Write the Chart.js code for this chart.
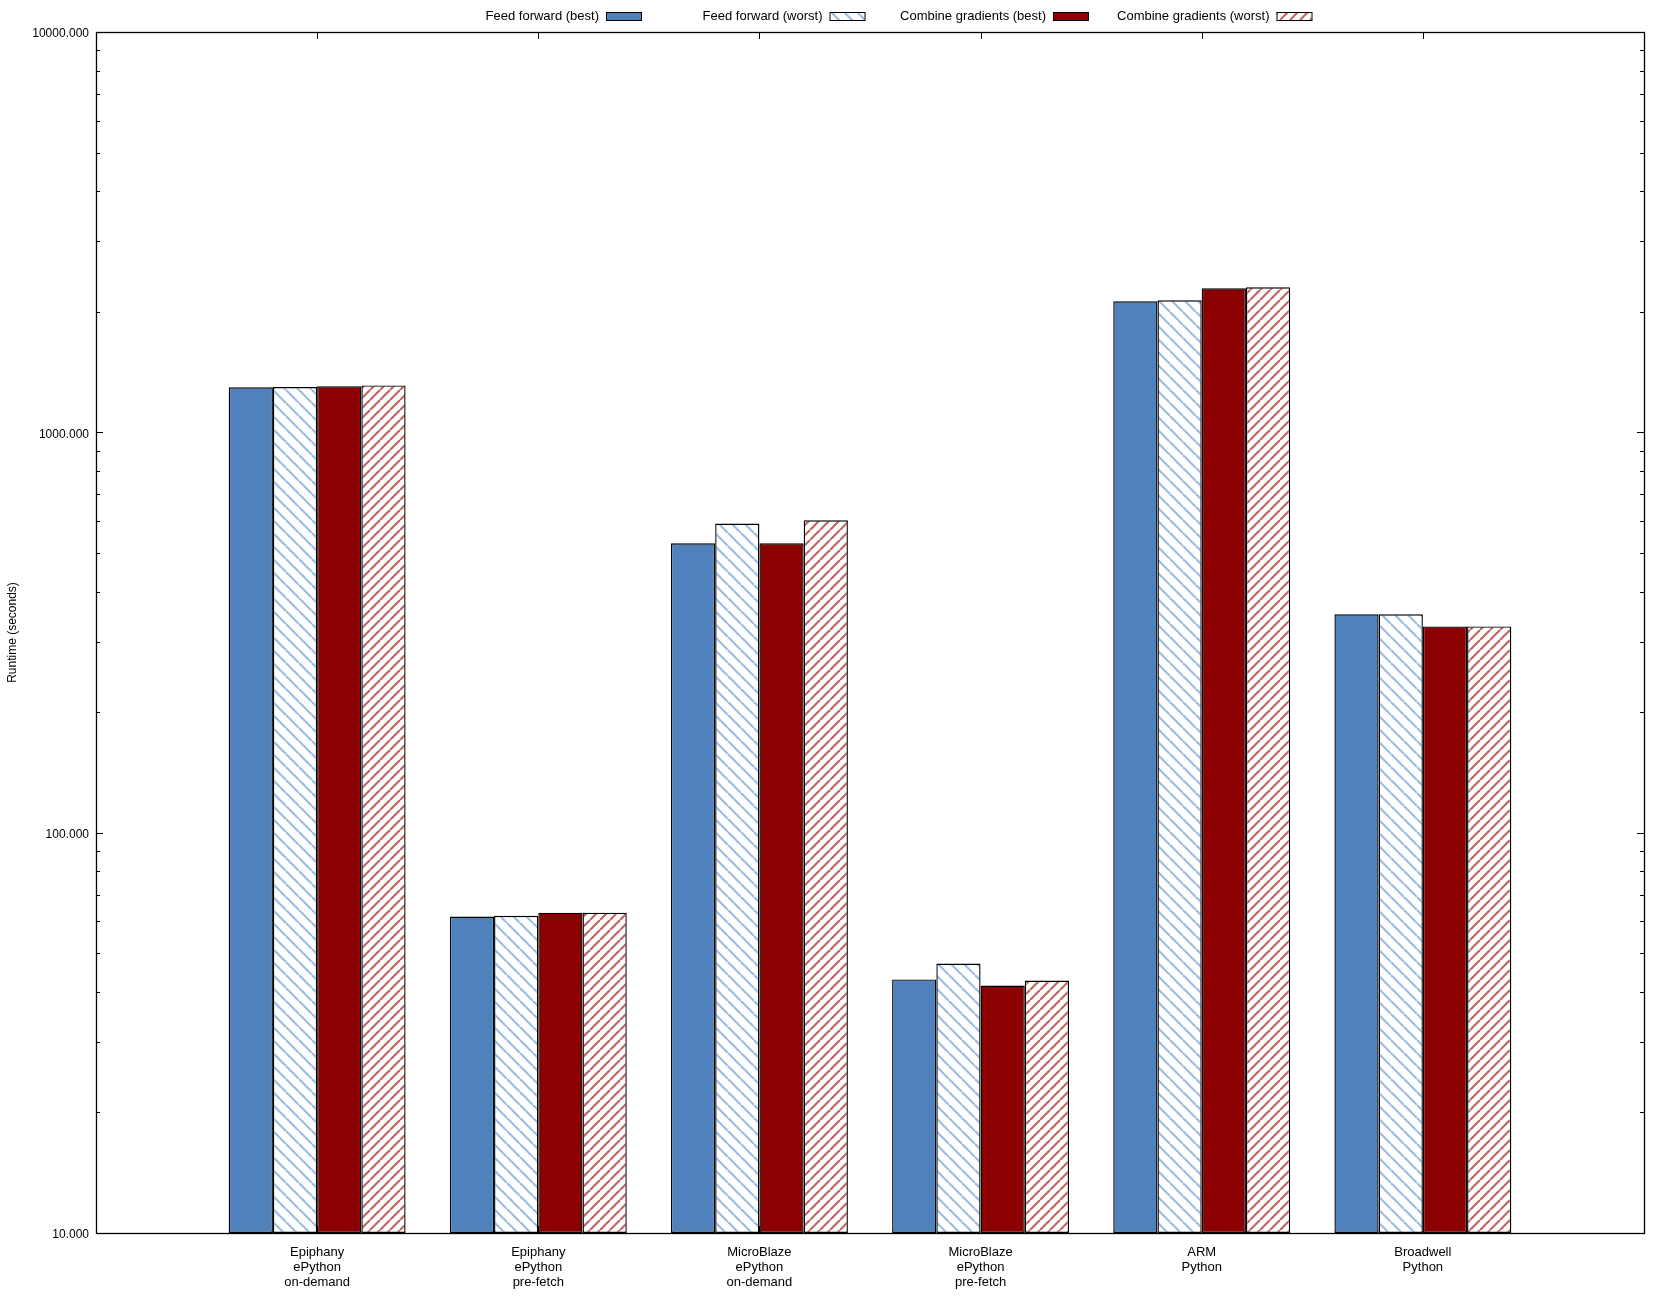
<!DOCTYPE html>
<html>
<head>
<meta charset="utf-8">
<script src="https://cdn.jsdelivr.net/npm/chart.js@4.4.1/dist/chart.umd.min.js"></script>
<style>
    body { margin: 0; background: #fff; }
    #wrap { width: 1665px; height: 1300px; }
</style>
</head>
<body>
<div id="wrap"><canvas id="runtimeChart"></canvas></div>
<script>
// Data
const categories = [
    ['Epiphany', 'ePython', 'on-demand'],
    ['Epiphany', 'ePython', 'pre-fetch'],
    ['MicroBlaze', 'ePython', 'on-demand'],
    ['MicroBlaze', 'ePython', 'pre-fetch'],
    ['ARM', 'Python'],
    ['Broadwell', 'Python']
];
const feedForwardBest = [1296, 61.7, 528, 43.0, 2125, 351];
const feedForwardWorst = [1297, 62.0, 592, 47.1, 2137, 351];
const combineBest = [1303, 63.1, 528, 41.5, 2289, 327.5];
const combineWorst = [1310, 63.1, 603, 42.7, 2302, 327.5];
const yTicks = [10, 100, 1000, 10000];
const seriesNames = ['Feed forward (best)', 'Feed forward (worst)', 'Combine gradients (best)', 'Combine gradients (worst)'];

// empty slot either side, like the gnuplot x range
const labels = [''].concat(categories, ['']);
const pad = arr => [null].concat(arr, [null]);

function makeHatch(color, size, dir) {
    const c = document.createElement('canvas');
    c.width = size;
    c.height = size;
    const g = c.getContext('2d');
    g.fillStyle = '#fff';
    g.fillRect(0, 0, size, size);
    g.strokeStyle = color;
    g.lineWidth = 2.2;
    for (let k = -size; k <= size; k += size) {
        g.beginPath();
        if (dir === 'back') {
            g.moveTo(k, 0);
            g.lineTo(k + size, size);
        } else {
            g.moveTo(k, size);
            g.lineTo(k + size, 0);
        }
        g.stroke();
    }
    return g.createPattern(c, 'repeat');
}

const blueHatch = makeHatch('#9dbde1', 13, 'back');
const redHatch = makeHatch('#c46663', 10, 'fwd');

// frame, inward ticks, legend and y title in gnuplot style
const gnuplotDecor = {
    id: 'gnuplotDecor',
    afterDatasetsDraw(chart) {
        const ctx = chart.ctx;
        const a = chart.chartArea;
        const x = chart.scales.x;
        const y = chart.scales.y;
        ctx.save();
        ctx.strokeStyle = '#000';
        ctx.lineWidth = 1;
        ctx.beginPath();
        // y ticks, major and minor, both sides
        for (let dec = 10; dec < 10000; dec *= 10) {
            for (let m = 1; m <= 10; m++) {
                const py = Math.round(y.getPixelForValue(dec * m)) + 0.5;
                const len = (m === 1 || m === 10) ? 7 : 4;
                ctx.moveTo(a.left, py); ctx.lineTo(a.left + len, py);
                ctx.moveTo(a.right, py); ctx.lineTo(a.right - len, py);
            }
        }
        // x ticks at group centres
        for (let i = 1; i <= categories.length; i++) {
            const px = Math.round(x.getPixelForValue(i)) + 0.5;
            ctx.moveTo(px, a.top); ctx.lineTo(px, a.top + 7);
            ctx.moveTo(px, a.bottom); ctx.lineTo(px, a.bottom - 7);
        }
        ctx.stroke();
        ctx.lineWidth = 1.3;
        ctx.strokeRect(Math.round(a.left) + 0.5, Math.round(a.top) + 0.5,
            Math.round(a.right - a.left), Math.round(a.bottom - a.top));

        // legend: text then swatch
        ctx.font = '13px "Liberation Sans"';
        ctx.textAlign = 'right';
        ctx.textBaseline = 'middle';
        chart.data.datasets.forEach((ds, i) => {
            const sx = 606 + i * 223.5;
            ctx.fillStyle = '#000';
            ctx.fillText(ds.label, sx - 7, 16);
            ctx.fillStyle = ds.backgroundColor;
            ctx.fillRect(sx, 12, 35, 8);
            ctx.lineWidth = 1;
            ctx.strokeRect(sx + 0.5, 12.5, 35, 8);
        });

        // y axis title
        ctx.translate(13, (a.top + a.bottom) / 2);
        ctx.rotate(-Math.PI / 2);
        ctx.textAlign = 'center';
        ctx.fillStyle = '#000';
        ctx.font = '12px "Liberation Sans"';
        ctx.fillText('Runtime (seconds)', 0, 0);
        ctx.restore();
    }
};

Chart.defaults.font.family = '"Liberation Sans", sans-serif';
Chart.defaults.font.size = 13;
Chart.defaults.color = '#000';

new Chart(document.getElementById('runtimeChart'), {
    type: 'bar',
    data: {
        labels: labels,
        datasets: [
            { label: seriesNames[0], data: pad(feedForwardBest), backgroundColor: '#4f81bd' },
            { label: seriesNames[1], data: pad(feedForwardWorst), backgroundColor: blueHatch },
            { label: seriesNames[2], data: pad(combineBest), backgroundColor: '#8b0000' },
            { label: seriesNames[3], data: pad(combineWorst), backgroundColor: redHatch }
        ]
    },
    options: {
        responsive: true,
        maintainAspectRatio: false,
        animation: false,
        devicePixelRatio: 1,
        layout: { padding: { top: 32, right: 21, left: 0, bottom: 0 } },
        datasets: {
            bar: {
                borderColor: '#000',
                borderWidth: 1.4,
                borderSkipped: false,
                categoryPercentage: 0.8,
                barPercentage: 1.0
            }
        },
        scales: {
            x: {
                offset: false,
                grid: { display: false },
                border: { display: false },
                ticks: {
                    autoSkip: false,
                    maxRotation: 0,
                    padding: 4,
                    font: { size: 13, lineHeight: 1.15 }
                },
                afterFit: s => { s.height = 67; }
            },
            y: {
                type: 'logarithmic',
                min: 10,
                max: 10000,
                grid: { display: false, drawTicks: false },
                border: { display: false },
                afterBuildTicks: s => { s.ticks = yTicks.map(v => ({ value: v, major: true })); },
                afterFit: s => { s.width = 96; },
                ticks: {
                    padding: 7,
                    labelOffset: 2,
                    font: { size: 12 },
                    callback: v => Number(v).toFixed(3)
                }
            }
        },
        plugins: {
            legend: { display: false },
            tooltip: { enabled: false }
        }
    },
    plugins: [gnuplotDecor]
});
</script>
</body>
</html>
